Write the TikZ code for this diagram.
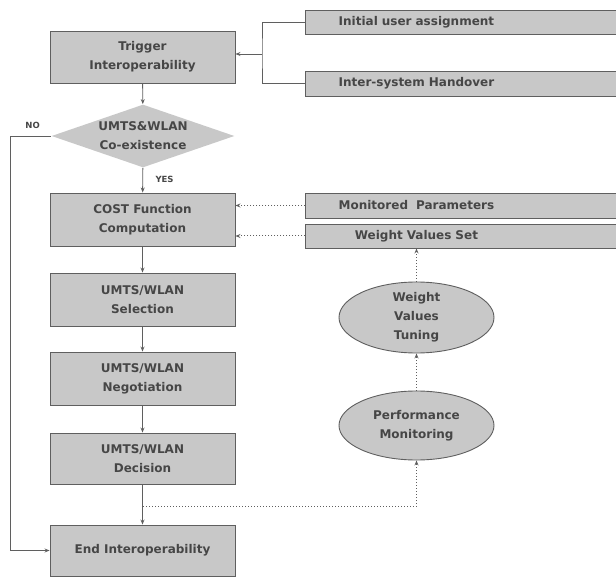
\documentclass[tikz,border=0pt]{standalone}
\usepackage{fontspec}
\setmainfont{DejaVu Sans}
\usepackage{xcolor}
\usetikzlibrary{shapes.geometric,arrows.meta}

\definecolor{boxgray}{RGB}{200,200,200}
\definecolor{linegray}{RGB}{95,95,95}
\definecolor{textgray}{RGB}{70,70,70}

\newcommand{\sidetext}[1]{\makebox[222pt]{#1}}

\tikzset{
    flowbox/.style={draw=linegray, fill=boxgray, minimum width=185pt, align=center, inner sep=0pt},
    sidebox/.style={draw=linegray, fill=boxgray, anchor=west, text width=340pt, align=left, inner xsep=0pt, inner ysep=0pt},
    decisionbox/.style={diamond, draw=none, fill=boxgray, minimum width=183pt, minimum height=63pt, inner sep=0pt, aspect=2.9, align=center},
    tunebox/.style={ellipse, draw=linegray, fill=boxgray, minimum width=155pt, inner sep=0pt, align=center},
    tip/.style={-{Stealth[length=5pt,width=4pt]}},
    dots/.style={dotted, line width=1pt},
    answer/.style={font=\fontsize{8.5}{10}\selectfont\bfseries}
}

\begin{document}
\begin{tikzpicture}[x=1pt, y=-1pt, line width=0.9pt, color=linegray, text=textgray,
    font=\fontsize{12}{19}\selectfont\bfseries]

    \clip (0,0) rectangle (616,577);

    %left column
    \node[flowbox, minimum height=52pt] (trig) at (142.5,57) {Trigger\\Interoperability};
    \node[decisionbox] (coex) at (143,136) {UMTS\&WLAN\\Co-existence};
    \node[flowbox, minimum height=53pt] (cost) at (142.5,219.5) {COST Function\\Computation};
    \node[flowbox, minimum height=53pt] (sel) at (142.5,299.5) {UMTS/WLAN\\Selection};
    \node[flowbox, minimum height=53pt] (neg) at (142.5,378.5) {UMTS/WLAN\\Negotiation};
    \node[flowbox, minimum height=51pt] (dec) at (142.5,458.5) {UMTS/WLAN\\Decision};
    \node[flowbox, minimum height=51pt] (end) at (142.5,550.5) {End Interoperability};

    %right column
    \node[sidebox, minimum height=24pt] (init) at (305,22) {\sidetext{Initial user assignment}};
    \node[sidebox, minimum height=25pt] (hand) at (305,83.5) {\sidetext{Inter-system Handover}};
    \node[sidebox, minimum height=25pt] (mon) at (305,205.5) {\sidetext{Monitored\ \ Parameters}};
    \node[sidebox, minimum height=24pt] (wvs) at (305,236) {\sidetext{Weight Values Set}};
    \node[tunebox, minimum height=71pt] (tune) at (416.5,317.5) {Weight\\Values\\Tuning};
    \node[tunebox, minimum height=69pt] (perf) at (416.5,425.5) {Performance\\Monitoring};

    %coordinates
    \coordinate (join) at (262,54); % trigger sources
    \coordinate (tap) at (143,506); % monitoring feed

    %main flow
    \draw[tip] (trig) -- (coex);
    \draw[tip] (coex) -- (cost) node[pos=0.45, right=9pt, answer] {YES};
    \draw[tip] (cost) -- (sel);
    \draw[tip] (sel) -- (neg);
    \draw[tip] (neg) -- (dec);
    \draw[tip] (dec) -- (end);
    \draw[tip] (coex.west) -- (10,136) node[pos=0.45, above=4pt, answer] {NO}
        |- (end.west);

    %triggers
    \draw (init.west) -| (join) |- (hand.west);
    \draw[tip] (join) -- (trig.east |- join);

    %feedback
    \draw[tip, dots] (mon.west) -- (cost.east |- mon.west);
    \draw[tip, dots] (wvs.west) -- (cost.east |- wvs.west);
    \draw[tip, dots] (tap) -| (perf.south);
    \draw[tip, dots] (perf) -- (tune);
    \draw[tip, dots] (tune.north) -- (tune.north |- wvs.south);

\end{tikzpicture}
\end{document}
